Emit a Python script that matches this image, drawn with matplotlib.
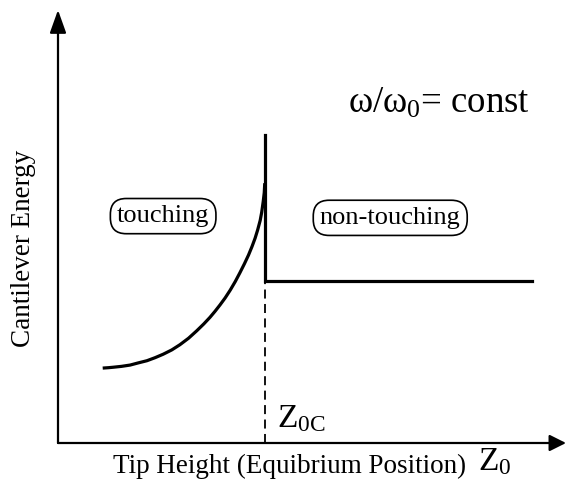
import matplotlib
matplotlib.use("Agg")
import matplotlib.pyplot as plt

plt.rcParams['font.family'] = 'Liberation Serif'
plt.rcParams['mathtext.fontset'] = 'custom'
plt.rcParams['mathtext.rm'] = 'Liberation Serif'
plt.rcParams['mathtext.it'] = 'Liberation Serif:italic'

# tip height (arbitrary units) and cantilever energy on the touching branch
z_touch = [0.88, 1.00, 1.09, 1.25, 1.42, 1.58, 1.75, 1.91, 2.07, 2.24,
           2.40, 2.57, 2.73, 2.87, 2.99, 3.09, 3.19, 3.29, 3.39, 3.49,
           3.58, 3.67, 3.75, 3.82, 3.88, 3.93, 3.98, 4.01, 4.04, 4.06, 4.07]
e_touch = [1.73, 1.74, 1.75, 1.77, 1.80, 1.85, 1.90, 1.97, 2.05, 2.15,
           2.27, 2.42, 2.59, 2.75, 2.90, 3.04, 3.19, 3.35, 3.53, 3.73,
           3.93, 4.14, 4.34, 4.54, 4.73, 4.92, 5.14, 5.33, 5.58, 5.78, 6.00]

z_0c = 4.07          # critical tip height
e_peak = 7.11        # top of the jump at z_0c
e_free = 3.74        # constant energy when not touching
z_end = 9.33

fig = plt.figure(figsize=(5.66, 4.84), dpi=100)
ax = fig.add_axes([58 / 566, 41 / 484, 508 / 566, 433 / 484])
ax.set_xlim(0, 10)
ax.set_ylim(0, 10)
ax.axis("off")

# axes with arrow heads
ax.annotate("", xy=(0, 10), xytext=(0, 0),
            arrowprops=dict(arrowstyle="-|>,head_length=0.7,head_width=0.25",
                            lw=1.6, color="black", mutation_scale=20,
                            shrinkA=0, shrinkB=0), annotation_clip=False)
ax.annotate("", xy=(10, 0), xytext=(0, 0),
            arrowprops=dict(arrowstyle="-|>,head_length=0.5,head_width=0.25",
                            lw=1.6, color="black", mutation_scale=20,
                            shrinkA=0, shrinkB=0), annotation_clip=False)

# energy curves
ax.plot(z_touch, e_touch, color="black", lw=2.3, solid_capstyle="butt",
        solid_joinstyle="round")
ax.plot([z_0c, z_0c, z_end], [e_peak, e_free, e_free], color="black", lw=2.3,
        solid_joinstyle="miter")
ax.plot([z_0c, z_0c], [0, e_free], color="black", lw=1.3, dashes=(5, 3))

box = dict(boxstyle="round,pad=0.25,rounding_size=0.6", fc="white",
           ec="black", lw=1.2)
ax.text(2.07, 5.24, "touching", ha="center", va="center", fontsize=19,
        bbox=box)
ax.text(6.54, 5.20, "non-touching", ha="center", va="center", fontsize=19,
        bbox=box)
ax.text(5.71, 7.62, "ω/ω$_0$= const", ha="left", va="baseline", fontsize=26.5)
ax.text(4.31, 0.37, r"$\mathregular{Z_{0C}}$", ha="left", va="baseline",
        fontsize=24)

fig.text(113 / 566, 11 / 484, "Tip Height (Equibrium Position)",
         ha="left", va="baseline", fontsize=19.5)
fig.text(478 / 566, 14 / 484, r"$\mathregular{Z_0}$", ha="left",
         va="baseline", fontsize=24)
fig.text(24 / 566, 1 - 248 / 484, "Cantilever Energy", rotation=90,
         ha="center", va="center", fontsize=19.5)

fig.savefig("out.png", dpi=100)
